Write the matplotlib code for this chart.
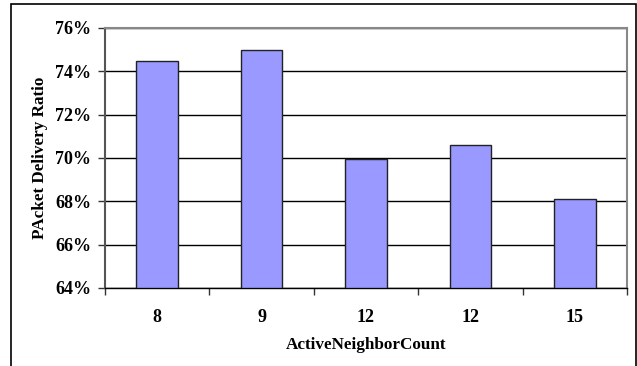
import matplotlib
matplotlib.use("Agg")
import matplotlib.pyplot as plt
from matplotlib.patches import Rectangle
from matplotlib.ticker import FuncFormatter, MultipleLocator

# delivery ratio per active neighbor count
labels = ["8", "9", "12", "12", "15"]
ratio = [74.5, 75.0, 69.95, 70.58, 68.12]

W, H = 637, 366
fig = plt.figure(figsize=(W / 100, H / 100), dpi=100)
plt.rcParams['font.family'] = ['Liberation Serif', 'DejaVu Serif']

# plot area in pixels: left 105, right 627, top 28, bottom 288
ax = fig.add_axes([105 / W, 1 - 288 / H, (627 - 105) / W, (288 - 28) / H])

x = range(len(labels))
ax.bar(x, [r - 64 for r in ratio], bottom=64, width=0.4,
       color="#9999ff", edgecolor="#222222", linewidth=1.0, zorder=3)

ax.set_xlim(-0.5, len(labels) - 0.5)
ax.set_ylim(64, 76)
ax.yaxis.set_major_locator(MultipleLocator(2))
ax.yaxis.set_major_formatter(FuncFormatter(lambda v, p: "%d%%" % v))
ax.grid(axis="y", color="black", linewidth=1.0, zorder=0)

# category ticks between bars
ax.set_xticks([i + 0.5 for i in range(-1, len(labels))], minor=False)
ax.set_xticklabels([])
ax.set_xticks(list(x), minor=True)
ax.set_xticklabels(labels, minor=True, fontsize=13, fontweight="bold")
ax.tick_params(axis="x", which="major", direction="out", length=5, width=1, color="#333333")
ax.tick_params(axis="x", which="minor", length=0, pad=15)
ax.tick_params(axis="y", direction="out", length=5, width=1, color="#333333",
               labelsize=13, pad=5)
for t in ax.get_yticklabels():
    t.set_fontweight("bold")

ax.spines["left"].set_color("#555555")
ax.spines["left"].set_linewidth(1.5)
ax.spines["bottom"].set_color("black")
ax.spines["bottom"].set_linewidth(1.0)
ax.spines["top"].set_color("#888888")
ax.spines["right"].set_color("#888888")
ax.spines["top"].set_linewidth(1.5)
ax.spines["right"].set_linewidth(1.5)

ax.set_xlabel("ActiveNeighborCount", fontsize=12.3, fontweight="bold", labelpad=8)
ax.set_ylabel("PAcket Delivery Ratio", fontsize=12.3, fontweight="bold", labelpad=5)

# chart frame, open at the bottom
fig.patches.append(Rectangle((11 / W, -0.1), (636 - 11) / W, 1.1 - 4 / H,
                             transform=fig.transFigure, fill=False,
                             edgecolor="black", linewidth=1.2))

fig.savefig("out.png", dpi=100)
